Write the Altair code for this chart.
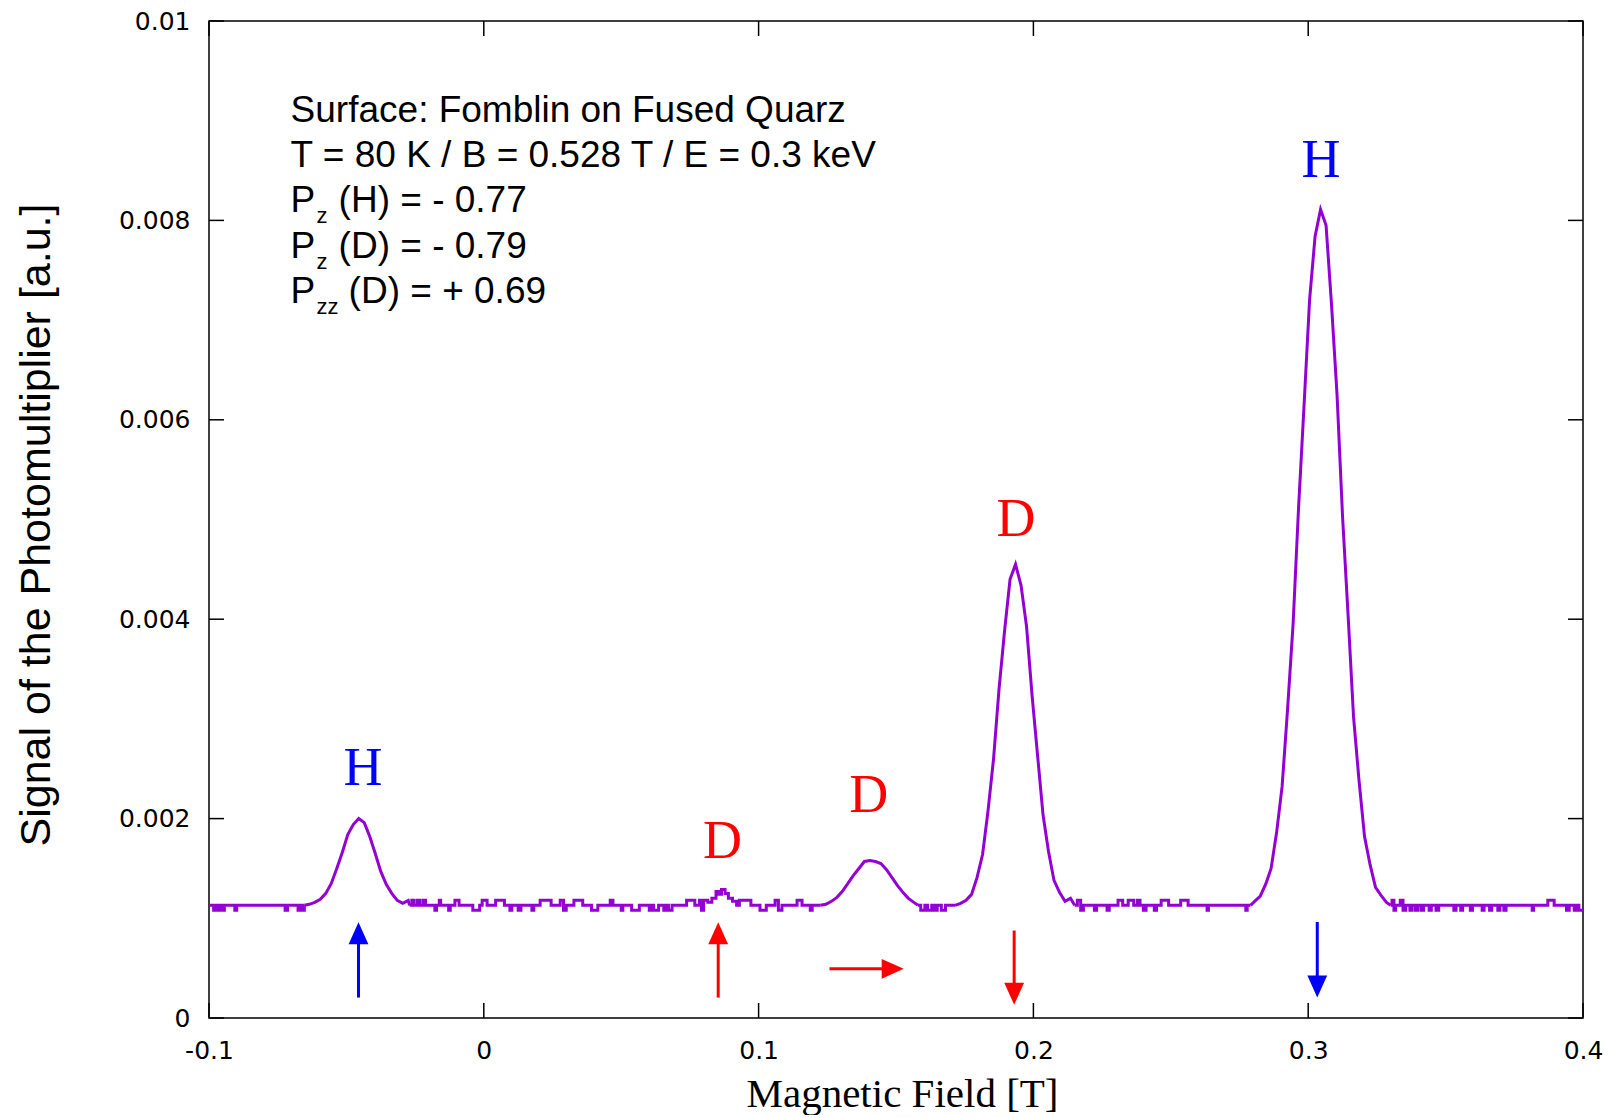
import altair as alt
import pandas as pd

# ---------------- data ----------------
# flat baseline stretches (drawn as steps, with the small noise notches)
x_base1 = [-0.1000, -0.0983, -0.0976, -0.0968, -0.0961, -0.0950, -0.0944, -0.0906, -0.0899,
           -0.0723, -0.0714, -0.0676, -0.0668, -0.0660, -0.0653]
y_base1 = [0.00113, 0.00108, 0.00113, 0.00108, 0.00113, 0.00108, 0.00113, 0.00108, 0.00113,
           0.00108, 0.00113, 0.00108, 0.00113, 0.00108, 0.00113]
x_base2 = [-0.0270, -0.0262, -0.0255, -0.0243, -0.0232, -0.0220, -0.0212, -0.0178, -0.0172, -0.0162,
           -0.0157, -0.0128, -0.0122, -0.0105, -0.0090, -0.0040, -0.0015, -0.0006, 0.0012, 0.0043,
           0.0075, 0.0095, 0.0102, 0.0125, 0.0135, 0.0175, 0.0182, 0.0205, 0.0245, 0.0278,
           0.0290, 0.0300, 0.0328, 0.0360, 0.0392, 0.0415, 0.0460, 0.0470, 0.0500, 0.0506,
           0.0538, 0.0566, 0.0602, 0.0610, 0.0618, 0.0636, 0.0655, 0.0662, 0.0672, 0.0685,
           0.0738, 0.0768, 0.0785, 0.0792, 0.0800]
y_base2 = [0.00113, 0.00118, 0.00113, 0.00118, 0.00113, 0.00118, 0.00113, 0.00108, 0.00113, 0.00118,
           0.00113, 0.00108, 0.00113, 0.00118, 0.00113, 0.00108, 0.00113, 0.00118, 0.00113, 0.00118,
           0.00113, 0.00108, 0.00113, 0.00108, 0.00113, 0.00108, 0.00113, 0.00118, 0.00113, 0.00118,
           0.00108, 0.00113, 0.00118, 0.00113, 0.00108, 0.00113, 0.00118, 0.00113, 0.00108, 0.00113,
           0.00108, 0.00113, 0.00108, 0.00113, 0.00108, 0.00113, 0.00108, 0.00113, 0.00108, 0.00113,
           0.00118, 0.00113, 0.00118, 0.00108, 0.00118]
# tiny D bump near 0.086 T
x_d1 = [0.0815, 0.0830, 0.0845, 0.0855, 0.0865, 0.0878, 0.0890, 0.0905, 0.0920]
y_d1 = [0.00116, 0.00120, 0.00127, 0.00124, 0.00129, 0.00125, 0.00120, 0.00117, 0.00113]
x_base3 = [0.0930, 0.0972, 0.1005, 0.1028, 0.1060, 0.1072, 0.1085, 0.1140, 0.1158, 0.1188, 0.1195, 0.1225]
y_base3 = [0.00118, 0.00113, 0.00108, 0.00113, 0.00118, 0.00108, 0.00113, 0.00118, 0.00113, 0.00108, 0.00113, 0.00113]
x_base4 = [0.1580, 0.1590, 0.1605, 0.1615, 0.1630, 0.1640, 0.1650, 0.1665, 0.1680, 0.1715]
y_base4 = [0.00113, 0.00108, 0.00113, 0.00108, 0.00113, 0.00108, 0.00113, 0.00108, 0.00113, 0.00113]
x_base5 = [0.2150, 0.2160, 0.2172, 0.2182, 0.2222, 0.2230, 0.2268, 0.2276, 0.2308, 0.2325,
           0.2345, 0.2365, 0.2378, 0.2388, 0.2400, 0.2410, 0.2440, 0.2448, 0.2465, 0.2492,
           0.2536, 0.2563, 0.2632, 0.2637, 0.2773, 0.2778, 0.2790]
y_base5 = [0.00113, 0.00118, 0.00108, 0.00113, 0.00108, 0.00113, 0.00108, 0.00113, 0.00118, 0.00113,
           0.00118, 0.00113, 0.00118, 0.00113, 0.00108, 0.00113, 0.00108, 0.00113, 0.00118, 0.00113,
           0.00118, 0.00113, 0.00108, 0.00113, 0.00108, 0.00113, 0.00113]
x_base6 = [0.3300, 0.3305, 0.3312, 0.3318, 0.3335, 0.3345, 0.3355, 0.3370, 0.3378, 0.3390, 0.3400,
           0.3412, 0.3420, 0.3440, 0.3448, 0.3465, 0.3475, 0.3530, 0.3538, 0.3555, 0.3562,
           0.3590, 0.3598, 0.3633, 0.3640, 0.3660, 0.3668, 0.3690, 0.3698, 0.3712, 0.3720,
           0.3815, 0.3820, 0.3872, 0.3895, 0.3940, 0.3950, 0.3968, 0.3975, 0.3985, 0.4000]
y_base6 = [0.00113, 0.00118, 0.00108, 0.00113, 0.00118, 0.00108, 0.00113, 0.00108, 0.00113, 0.00108, 0.00113,
           0.00108, 0.00113, 0.00108, 0.00113, 0.00108, 0.00113, 0.00108, 0.00113, 0.00108, 0.00113,
           0.00108, 0.00113, 0.00108, 0.00113, 0.00108, 0.00113, 0.00108, 0.00113, 0.00108, 0.00113,
           0.00108, 0.00113, 0.00118, 0.00113, 0.00108, 0.00113, 0.00108, 0.00113, 0.00108, 0.00108]

# resonance peaks (drawn as lines)
x_h1 = [-0.0653, -0.0635, -0.0615, -0.0595, -0.0575, -0.0555, -0.0535, -0.0515, -0.0495, -0.0475, -0.0455,
        -0.0435, -0.0415, -0.0395, -0.0375, -0.0355, -0.0335, -0.0315, -0.0295, -0.0275, -0.0270]
y_h1 = [0.00113, 0.00114, 0.00116, 0.00119, 0.00125, 0.00135, 0.00150, 0.00166, 0.00184, 0.00194, 0.00200,
        0.00196, 0.00182, 0.00165, 0.00147, 0.00134, 0.00125, 0.00118, 0.00115, 0.00118, 0.00113]
x_d2 = [0.1225, 0.1245, 0.1265, 0.1285, 0.1305, 0.1325, 0.1345, 0.1365, 0.1385, 0.1405,
        0.1425, 0.1445, 0.1465, 0.1485, 0.1505, 0.1525, 0.1545, 0.1565, 0.1580]
y_d2 = [0.00113, 0.00114, 0.00117, 0.00121, 0.00127, 0.00135, 0.00143, 0.00150, 0.00157, 0.00158,
        0.00157, 0.00155, 0.00149, 0.00141, 0.00133, 0.00126, 0.00120, 0.00116, 0.00113]
x_d3 = [0.1715, 0.1735, 0.1755, 0.1775, 0.1795, 0.1815, 0.1835, 0.1855, 0.1875, 0.1895, 0.1915, 0.1935,
        0.1955, 0.1975, 0.1995, 0.2015, 0.2035, 0.2055, 0.2075, 0.2095, 0.2115, 0.2135, 0.2150]
y_d3 = [0.00113, 0.00115, 0.00118, 0.00124, 0.00141, 0.00164, 0.00208, 0.00260, 0.00330, 0.00388, 0.00440, 0.00455,
        0.00434, 0.00393, 0.00324, 0.00264, 0.00204, 0.00167, 0.00138, 0.00126, 0.00117, 0.00120, 0.00113]
x_h2 = [0.2790, 0.2805, 0.2825, 0.2845, 0.2865, 0.2885, 0.2905, 0.2925, 0.2945, 0.2965, 0.2985, 0.3005, 0.3025,
        0.3045, 0.3065, 0.3085, 0.3105, 0.3125, 0.3145, 0.3165, 0.3185, 0.3205, 0.3225, 0.3245, 0.3265, 0.3285,
        0.3300]
y_h2 = [0.00113, 0.00117, 0.00122, 0.00134, 0.00150, 0.00186, 0.00232, 0.00310, 0.00395, 0.00512, 0.00615, 0.00720,
        0.00784, 0.00811, 0.00795, 0.00715, 0.00625, 0.00503, 0.00405, 0.00302, 0.00238, 0.00182, 0.00154, 0.00131,
        0.00123, 0.00116, 0.00113]

x_ticks = [-0.1, 0, 0.1, 0.2, 0.3, 0.4]
y_ticks = [0, 0.002, 0.004, 0.006, 0.008, 0.01]

# peak labels
peak_x = [-0.0440, 0.0869, 0.1401, 0.1937, 0.3047]
peak_y = [0.002334, 0.00160, 0.002065, 0.004834, 0.008432]
peak_text = ["H", "D", "D", "D", "H"]
peak_color = ["#0000ff", "#ff0000", "#ff0000", "#ff0000", "#0000ff"]

# arrows (spin directions)
arr_x = [-0.0456, 0.0853, 0.1258, 0.1930, 0.3033]
arr_x2 = [-0.0456, 0.0853, 0.1452, 0.1930, 0.3033]
arr_y = [0.000205, 0.000205, 0.000493, 0.000877, 0.000963]
arr_y2 = [0.00075, 0.00075, 0.000493, 0.00034, 0.00041]
tip_x = [-0.0456, 0.0853, 0.1528, 0.1930, 0.3033]
tip_y = [0.00096, 0.00096, 0.000493, 0.000132, 0.000205]
tip_dir = ["up", "up", "right", "down", "down"]
arr_color = ["#0000ff", "#ff0000", "#ff0000", "#ff0000", "#0000ff"]

# info text block
info_x = -0.0703
info_y = [0.008991, 0.008536, 0.008082, 0.007627, 0.007172]
info_main = ["Surface: Fomblin on Fused Quarz", "T = 80 K / B = 0.528 T / E = 0.3 keV", "P", "P", "P"]
info_sub = ["z", "z", "zz"]
info_rest = ["(H) = - 0.77", "(D) = - 0.79", "(D) = + 0.69"]

# ---------------- table ----------------
step_parts = [(x_base1, y_base1), (x_base2 + x_d1 + x_base3, y_base2 + y_d1 + y_base3),
              (x_base4, y_base4), (x_base5, y_base5), (x_base6, y_base6)]
peak_parts = [(x_h1, y_h1), (x_d2, y_d2), (x_d3, y_d3), (x_h2, y_h2)]
rows = []
for kind, parts in (("step", step_parts), ("peak", peak_parts)):
    for i, (xa, ya) in enumerate(parts):
        assert len(xa) == len(ya), (kind, i, len(xa), len(ya))
        for xv, yv in zip(xa, ya):
            rows.append({"B": xv, "S": yv, "seg": f"{kind}{i}", "kind": kind})
df = pd.DataFrame(rows)

# ---------------- chart ----------------
W, H = 1374, 997
xs = alt.Scale(domain=[-0.1, 0.4], nice=False, zero=False)
ys = alt.Scale(domain=[0, 0.01], nice=False, zero=False)

x_axis = alt.Axis(values=x_ticks, labelExpr="'' + datum.value", title="Magnetic Field [T]",
                  labelPadding=20, tickSize=0, labelFlush=False,
                  titleFont="Liberation Serif", titleFontSize=41, titleFontWeight="normal",
                  titleX=693, titleY=88, titleBaseline="alphabetic", titleAlign="center")
y_axis = alt.Axis(values=y_ticks, labelExpr="'' + datum.value",
                  title="Signal of the Photomultiplier [a.u.]",
                  labelPadding=19, tickSize=0, labelFlush=False,
                  titleFont="Liberation Sans", titleFontSize=43, titleFontWeight="normal",
                  titleX=-160, titleY=503.5, titleAngle=270, titleBaseline="alphabetic",
                  titleAlign="center")

line_color = "#9400d3"
curve_steps = alt.Chart(df).transform_filter("datum.kind == 'step'").mark_line(
    interpolate="step-after", color=line_color, strokeWidth=3, clip=True).encode(
    x=alt.X("B:Q", scale=xs, axis=x_axis),
    y=alt.Y("S:Q", scale=ys, axis=y_axis),
    detail="seg:N",
)
curve_peaks = alt.Chart(df).transform_filter("datum.kind == 'peak'").mark_line(
    interpolate="linear", color=line_color, strokeWidth=3, clip=True).encode(
    x=alt.X("B:Q", scale=xs, axis=x_axis),
    y=alt.Y("S:Q", scale=ys, axis=y_axis),
    detail="seg:N",
)

xt = pd.DataFrame({"B": x_ticks})
yt = pd.DataFrame({"S": y_ticks})
tick_style = dict(color="black", strokeWidth=1.5)
bottom_ticks = alt.Chart(xt).mark_rule(**tick_style).encode(
    x=alt.X("B:Q", scale=xs, axis=x_axis), y=alt.value(H), y2=alt.value(H - 15))
top_ticks = alt.Chart(xt).mark_rule(**tick_style).encode(
    x=alt.X("B:Q", scale=xs, axis=x_axis), y=alt.value(0), y2=alt.value(15))
left_ticks = alt.Chart(yt).mark_rule(**tick_style).encode(
    y=alt.Y("S:Q", scale=ys, axis=y_axis), x=alt.value(0), x2=alt.value(15))
right_ticks = alt.Chart(yt).mark_rule(**tick_style).encode(
    y=alt.Y("S:Q", scale=ys, axis=y_axis), x=alt.value(W - 15), x2=alt.value(W))

shape_paths = {"up": "M0,0L-0.45,1L0.45,1Z",
               "down": "M0,0L-0.45,-1L0.45,-1Z",
               "right": "M0,0L-1,-0.45L-1,0.45Z"}
arr_df = pd.DataFrame({"B": arr_x, "B2": arr_x2, "S": arr_y, "S2": arr_y2,
                       "tx": tip_x, "ty": tip_y,
                       "shape": [shape_paths[d] for d in tip_dir], "c": arr_color})
shafts = alt.Chart(arr_df).mark_rule(strokeWidth=3).encode(
    x=alt.X("B:Q", scale=xs, axis=x_axis), x2="B2:Q",
    y=alt.Y("S:Q", scale=ys, axis=y_axis), y2="S2:Q",
    color=alt.Color("c:N", scale=None))
heads = alt.Chart(arr_df).mark_point(filled=True, opacity=1, strokeWidth=0).encode(
    x=alt.X("tx:Q", scale=xs, axis=x_axis),
    y=alt.Y("ty:Q", scale=ys, axis=y_axis),
    shape=alt.Shape("shape:N", scale=None),
    color=alt.Color("c:N", scale=None),
    size=alt.value(1936))

peak_df = pd.DataFrame({"B": peak_x, "S": peak_y, "t": peak_text, "c": peak_color})
peak_labels = alt.Chart(peak_df).mark_text(font="Liberation Serif", fontSize=54,
                                           baseline="alphabetic", align="center").encode(
    x=alt.X("B:Q", scale=xs, axis=x_axis), y=alt.Y("S:Q", scale=ys, axis=y_axis),
    text="t:N", color=alt.Color("c:N", scale=None))

main_df = pd.DataFrame({"B": [info_x] * 5, "S": info_y, "t": info_main})
info_main_layer = alt.Chart(main_df).mark_text(font="Liberation Sans", fontSize=37, align="left",
                                               baseline="alphabetic", color="black").encode(
    x=alt.X("B:Q", scale=xs, axis=x_axis), y=alt.Y("S:Q", scale=ys, axis=y_axis), text="t:N")
sub_df = pd.DataFrame({"B": [info_x] * 3, "S": info_y[2:], "t": info_sub})
info_sub_layer = alt.Chart(sub_df).mark_text(font="Liberation Sans", fontSize=22, align="left",
                                             baseline="alphabetic", color="black",
                                             dx=26, dy=11).encode(
    x=alt.X("B:Q", scale=xs, axis=x_axis), y=alt.Y("S:Q", scale=ys, axis=y_axis), text="t:N")
rest_a = pd.DataFrame({"B": [info_x] * 2, "S": info_y[2:4], "t": info_rest[:2]})
info_rest_a = alt.Chart(rest_a).mark_text(font="Liberation Sans", fontSize=37, align="left",
                                          baseline="alphabetic", color="black", dx=48).encode(
    x=alt.X("B:Q", scale=xs, axis=x_axis), y=alt.Y("S:Q", scale=ys, axis=y_axis), text="t:N")
rest_b = pd.DataFrame({"B": [info_x], "S": info_y[4:], "t": info_rest[2:]})
info_rest_b = alt.Chart(rest_b).mark_text(font="Liberation Sans", fontSize=37, align="left",
                                          baseline="alphabetic", color="black", dx=58).encode(
    x=alt.X("B:Q", scale=xs, axis=x_axis), y=alt.Y("S:Q", scale=ys, axis=y_axis), text="t:N")

chart = alt.layer(
    curve_steps, curve_peaks, bottom_ticks, top_ticks, left_ticks, right_ticks, shafts, heads,
    peak_labels, info_main_layer, info_sub_layer, info_rest_a, info_rest_b
).properties(
    width=W, height=H,
    autosize=alt.AutoSizeParams(type="none"),
    padding={"left": 201, "top": 13, "right": 24, "bottom": 97},
).configure_view(
    stroke="black", strokeWidth=1.5
).configure_axis(
    domain=False, ticks=False, grid=False,
    labelFont="DejaVu Sans", labelFontSize=25, labelColor="black", titleColor="black",
    labelOverlap=False,
)

chart.save("out.html", embed_options={"renderer": "svg", "actions": False})
